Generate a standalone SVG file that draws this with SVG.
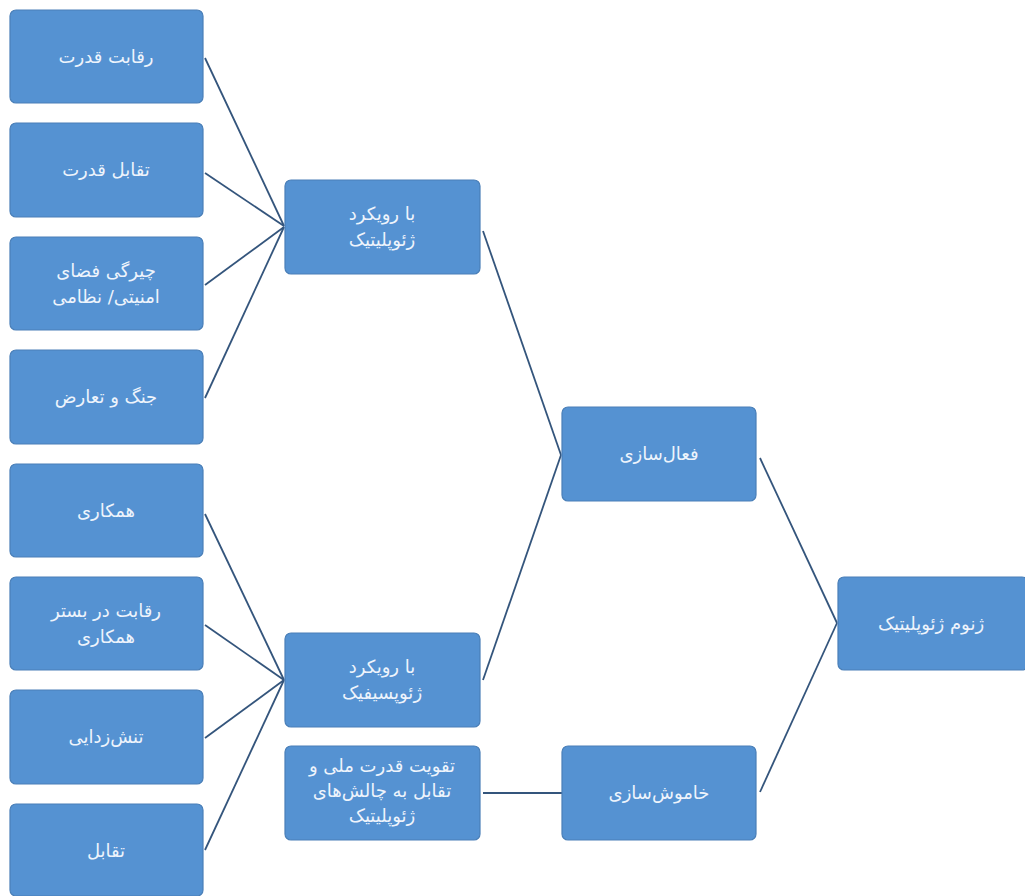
<svg xmlns="http://www.w3.org/2000/svg" width="1025" height="896" viewBox="0 0 1025 896">
<style>
.box{fill:#5592d2;stroke:#4a7fb8;stroke-width:1.2}
.t{font-family:"DejaVu Sans","Liberation Sans",sans-serif;font-size:18px;fill:#eef4fc;text-anchor:middle;direction:rtl}
.c{stroke:#34557c;stroke-width:1.8;fill:none}
</style>
<rect width="1025" height="896" fill="#ffffff"/>
<g id="connectors">
<line class="c" x1="205" y1="58" x2="284" y2="226"/>
<line class="c" x1="205" y1="173" x2="284" y2="226"/>
<line class="c" x1="205" y1="285" x2="284" y2="227"/>
<line class="c" x1="205" y1="398" x2="284" y2="227"/>
<line class="c" x1="205" y1="514" x2="284" y2="680"/>
<line class="c" x1="205" y1="625" x2="284" y2="680"/>
<line class="c" x1="205" y1="738" x2="284" y2="680"/>
<line class="c" x1="205" y1="850" x2="284" y2="680"/>
<line class="c" x1="483" y1="231" x2="561" y2="455"/>
<line class="c" x1="483" y1="680" x2="561" y2="455"/>
<line class="c" x1="760" y1="458" x2="837" y2="623"/>
<line class="c" x1="760" y1="792" x2="837" y2="623"/>
<line class="c" x1="483" y1="793" x2="562" y2="793"/>
</g>
<g id="n1"><rect class="box" x="10" y="10" width="193" height="93" rx="6"/><text class="t" x="106" y="63">رقابت قدرت</text></g>
<g id="n2"><rect class="box" x="10" y="123" width="193" height="94" rx="6"/><text class="t" x="106" y="176">تقابل قدرت</text></g>
<g id="n3"><rect class="box" x="10" y="237" width="193" height="93" rx="6"/><text class="t" x="106" y="277">چیرگی فضای</text><text class="t" x="106" y="303">امنیتی/ نظامی</text></g>
<g id="n4"><rect class="box" x="10" y="350" width="193" height="94" rx="6"/><text class="t" x="106" y="403">جنگ و تعارض</text></g>
<g id="n5"><rect class="box" x="10" y="464" width="193" height="93" rx="6"/><text class="t" x="106" y="517">همکاری</text></g>
<g id="n6"><rect class="box" x="10" y="577" width="193" height="93" rx="6"/><text class="t" x="106" y="617">رقابت در بستر</text><text class="t" x="106" y="643">همکاری</text></g>
<g id="n7"><rect class="box" x="10" y="690" width="193" height="94" rx="6"/><text class="t" x="106" y="743">تنش‌زدایی</text></g>
<g id="n8"><rect class="box" x="10" y="804" width="193" height="92" rx="6"/><text class="t" x="106" y="857">تقابل</text></g>
<g id="n9"><rect class="box" x="285" y="180" width="195" height="94" rx="6"/><text class="t" x="382" y="220">با رویکرد</text><text class="t" x="382" y="246">ژئوپلیتیک</text></g>
<g id="n10"><rect class="box" x="285" y="633" width="195" height="94" rx="6"/><text class="t" x="382" y="673">با رویکرد</text><text class="t" x="382" y="699">ژئوپسیفیک</text></g>
<g id="n11"><rect class="box" x="285" y="746" width="195" height="94" rx="6"/><text class="t" x="382" y="772">تقویت قدرت ملی و</text><text class="t" x="382" y="797">تقابل به چالش‌های</text><text class="t" x="382" y="822">ژئوپلیتیک</text></g>
<g id="n12"><rect class="box" x="562" y="407" width="194" height="94" rx="6"/><text class="t" x="659" y="460">فعال‌سازی</text></g>
<g id="n13"><rect class="box" x="562" y="746" width="194" height="94" rx="6"/><text class="t" x="659" y="799">خاموش‌سازی</text></g>
<g id="n14"><rect class="box" x="838" y="577" width="190" height="93" rx="6"/><text class="t" x="931" y="630">ژنوم ژئوپلیتیک</text></g>
</svg>
